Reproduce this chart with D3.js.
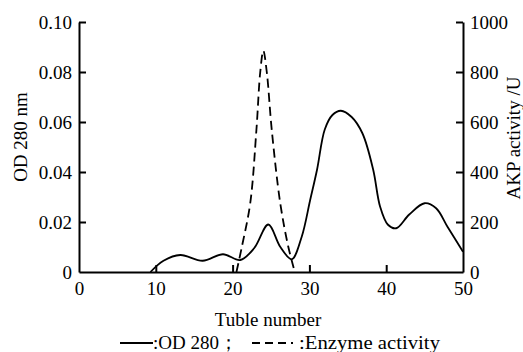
<!DOCTYPE html>
<html>
<head>
<meta charset="utf-8">
<script src="https://cdn.jsdelivr.net/npm/d3@7/dist/d3.min.js"></script>
<style>
  html, body { margin: 0; padding: 0; background: #fff; }
  #chart, #chart text { font-family: "Times New Roman", "Liberation Serif", "DejaVu Serif", serif; }
  #chart text { fill: #000; }
</style>
</head>
<body>
<svg id="chart" width="523" height="352"></svg>
<script>
// Tube numbers and absorbance at 280 nm
const odTubes = [9.3, 11, 13.2, 16.1, 18.75, 21, 22.8, 24.65, 26.2, 27.7, 29, 30.1, 31, 32, 33, 34.1, 35.5, 36.9, 38.3, 39.2, 40.2, 41.3, 43, 45, 46.5, 48, 50];
const odValues = [0, 0.0045, 0.0068, 0.0045, 0.0071, 0.0048, 0.0095, 0.019, 0.0101, 0.0051, 0.0141, 0.0288, 0.041, 0.057, 0.0628, 0.0645, 0.062, 0.0555, 0.041, 0.0262, 0.019, 0.0175, 0.023, 0.0275, 0.0255, 0.018, 0.0081];

// Tube numbers and AKP enzyme activity (U)
const enzTubes = [20.5, 21.2, 22.3, 23.1, 23.6, 24.0, 24.45, 25.1, 26.2, 27.25, 28.1];
const enzValues = [0, 100, 276, 568, 800, 885, 800, 568, 276, 101, 0];

const xTicks = [0, 10, 20, 30, 40, 50];
const odTicks = [0, 0.02, 0.04, 0.06, 0.08, 0.10];
const odTickLabels = ["0", "0.02", "0.04", "0.06", "0.08", "0.10"];
const enzTicks = [0, 200, 400, 600, 800, 1000];

const svg = d3.select("#chart");
const mLeft = 79, mRight = 463, mTop = 22, mBottom = 272;
const serif = '"Times New Roman", "Liberation Serif", "DejaVu Serif", serif';

const x = d3.scaleLinear().domain([0, 50]).range([mLeft, mRight]);
const yOD = d3.scaleLinear().domain([0, 0.10]).range([mBottom, mTop]);
const yEnz = d3.scaleLinear().domain([0, 1000]).range([mBottom, mTop]);

const fontSize = 19;

// Axes (ticks point into the plot)
const gx = svg.append("g").attr("transform", `translate(0,${mBottom})`)
  .call(d3.axisBottom(x).tickValues(xTicks).tickSizeInner(-7).tickSizeOuter(0).tickPadding(17));
const gl = svg.append("g").attr("transform", `translate(${mLeft},0)`)
  .call(d3.axisLeft(yOD).tickValues(odTicks).tickFormat((d, i) => odTickLabels[i]).tickSizeInner(-7).tickSizeOuter(0).tickPadding(7));
const gr = svg.append("g").attr("transform", `translate(${mRight},0)`)
  .call(d3.axisRight(yEnz).tickValues(enzTicks).tickFormat(d3.format("d")).tickSizeInner(-7).tickSizeOuter(0).tickPadding(7));

[gx, gl, gr].forEach(g => {
  g.attr("font-family", serif).attr("font-size", fontSize);
  g.select(".domain").attr("stroke", "#000").attr("stroke-width", 2);
  g.selectAll(".tick line").attr("stroke", "#000").attr("stroke-width", 2);
});
// end ticks coincide with the frame corners
gx.selectAll(".tick").filter(d => d === 0 || d === 50).select("line").remove();
gl.selectAll(".tick").filter(d => d === 0).select("line").remove();
gr.selectAll(".tick").filter(d => d === 0).select("line").remove();
gx.selectAll(".tick text").attr("dy", "0.71em").attr("y", 10);

// Curves
const odData = odTubes.map((t, i) => [t, odValues[i]]);
const enzData = enzTubes.map((t, i) => [t, enzValues[i]]);

const odLine = d3.line().x(d => x(d[0])).y(d => yOD(d[1])).curve(d3.curveCatmullRom.alpha(0.5));
const enzLine = d3.line().x(d => x(d[0])).y(d => yEnz(d[1])).curve(d3.curveCatmullRom.alpha(0.5));

svg.append("path").datum(odData).attr("d", odLine)
  .attr("fill", "none").attr("stroke", "#000").attr("stroke-width", 1.8);
svg.append("path").datum(enzData).attr("d", enzLine)
  .attr("fill", "none").attr("stroke", "#000").attr("stroke-width", 1.8)
  .attr("stroke-dasharray", "9,5");

// Axis titles
svg.append("text").attr("transform", `translate(27,${(mTop + mBottom) / 2 - 10}) rotate(-90)`)
  .attr("text-anchor", "middle").attr("font-size", fontSize).text("OD 280 nm");
svg.append("text").attr("transform", `translate(520,${(mTop + mBottom) / 2 - 9}) rotate(-90)`)
  .attr("text-anchor", "middle").attr("font-size", fontSize).text("AKP activity /U");
svg.append("text").attr("x", (mLeft + mRight) / 2 - 3).attr("y", 326)
  .attr("text-anchor", "middle").attr("font-size", fontSize).text("Tuble number");

// Legend
const ly = 343;
svg.append("line").attr("x1", 120).attr("x2", 153).attr("y1", ly).attr("y2", ly)
  .attr("stroke", "#000").attr("stroke-width", 1.8);
svg.append("text").attr("x", 153).attr("y", 349).attr("font-size", fontSize).text(":OD 280；");
svg.append("line").attr("x1", 252).attr("x2", 296).attr("y1", ly).attr("y2", ly)
  .attr("stroke", "#000").attr("stroke-width", 1.8).attr("stroke-dasharray", "8,5,8,5,8,5,2,100");
svg.append("text").attr("x", 299).attr("y", 349).attr("font-size", fontSize)
  .attr("textLength", 141).attr("lengthAdjust", "spacingAndGlyphs").text(":Enzyme activity");
</script>
</body>
</html>
